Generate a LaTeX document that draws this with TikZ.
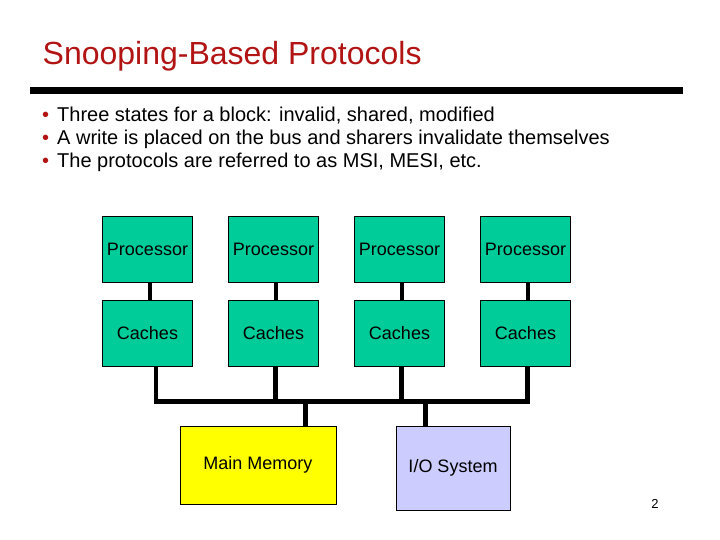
\documentclass[tikz,border=0pt]{standalone}
\usepackage{fontspec}
\setmainfont{Liberation Sans}
\definecolor{titlered}{RGB}{178,20,20}
\definecolor{boxgreen}{RGB}{0,204,153}
\definecolor{memyellow}{RGB}{255,255,0}
\definecolor{iolav}{RGB}{204,204,255}
\begin{document}
\begin{tikzpicture}[x=1pt,y=-1pt,
  unit/.style={draw=black,line width=0.8pt,fill=boxgreen,minimum width=90,minimum height=66,inner sep=0pt,font=\fontsize{18}{20}\selectfont},
  bigbox/.style={draw=black,line width=0.8pt,inner sep=0pt,font=\fontsize{18}{20}\selectfont},
  wire/.style={line width=4.5pt,black},
  bullettext/.style={anchor=base west,inner sep=0pt,font=\fontsize{20}{24}\selectfont},
  bulletdot/.style={anchor=base west,inner sep=0pt,text=titlered,font=\fontsize{20}{24}\selectfont}]
\useasboundingbox (0,0) rectangle (720,540);
\fill[white] (0,0) rectangle (720,540);
% title
\node[anchor=base west,inner sep=0pt,text=titlered,font=\fontsize{32}{38}\selectfont] (title) at (42.5,65) {Snooping-Based Protocols};
\fill[black] (30,87) rectangle (683,94);
% bullets
\node[bulletdot] (d1) at (42,122) {\textbullet};
\node[bullettext] (t1) at (57,122) {Three states for a block: invalid, shared, modified};
\node[bulletdot] (d2) at (42,145) {\textbullet};
\node[bullettext] (t2) at (57,145) {A write is placed on the bus and sharers invalidate themselves};
\node[bulletdot] (d3) at (42,168) {\textbullet};
\node[bullettext] (t3) at (57,168) {The protocols are referred to as MSI, MESI, etc.};
% processors and caches
\node[unit] (p1) at (147.5,249) {Processor};
\node[unit] (p2) at (273.5,249) {Processor};
\node[unit] (p3) at (399.5,249) {Processor};
\node[unit] (p4) at (525.5,249) {Processor};
\node[unit] (c1) at (147.5,333) {Caches};
\node[unit] (c2) at (273.5,333) {Caches};
\node[unit] (c3) at (399.5,333) {Caches};
\node[unit] (c4) at (525.5,333) {Caches};
\node[bigbox,fill=memyellow,minimum width=156,minimum height=78] (mem) at (258,465) {Main Memory};
\node[bigbox,fill=iolav,minimum width=114,minimum height=84] (io) at (453,468) {I/O System};
% connectors
\foreach \i in {1,2,3,4}{
  \draw[wire] ([xshift=2.5]p\i.south) -- ([xshift=2.5]c\i.north);
}
\coordinate (busL) at (156,401.5);
\coordinate (busR) at (527.7,401.5);
\draw[wire,line join=miter] ([xshift=8.5]c1.south) -- (busL) -- (busR) -- ([xshift=2.2]c4.south);
\draw[wire] ([xshift=2.2]c2.south) -- ([xshift=2.2]c2.south |- busL);
\draw[wire] ([xshift=2.2]c3.south) -- ([xshift=2.2]c3.south |- busL);
\draw[wire] (mem.north -| 305.7,0) -- (305.7,401.5);
\draw[wire] (io.north -| 425.7,0) -- (425.7,401.5);
% page number
\node[anchor=base,inner sep=0pt,font=\fontsize{13}{15}\selectfont] (pg) at (655,508) {2};
\end{tikzpicture}
\end{document}
